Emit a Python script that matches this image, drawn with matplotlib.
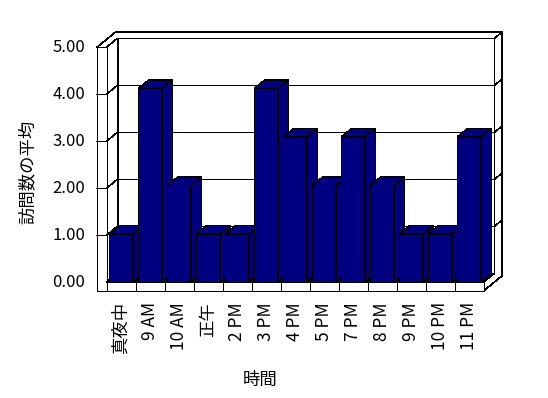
import matplotlib
matplotlib.use("Agg")
import matplotlib.pyplot as plt
from matplotlib.patches import Polygon

plt.rcParams['font.family'] = ['Noto Sans CJK JP', 'DejaVu Sans']

# data
categories = ["真夜中", "9 AM", "10 AM", "正午", "2 PM", "3 PM", "4 PM",
              "5 PM", "7 PM", "8 PM", "9 PM", "10 PM", "11 PM"]
avg_visits = [1, 4, 2, 1, 1, 4, 3, 2, 3, 2, 1, 1, 3]
y_ticks = [0, 1, 2, 3, 4, 5]
y_label = "訪問数の平均"
x_label = "時間"

BAR_COLOR = "#000080"
EDGE = "black"
LW = 0.4

# fake 3D (oblique projection): depth d shifts by (OX, OY) in data units
OX, OY = 11 / 29, 9 / 47
WALL_T = 0.33      # left wall thickness
FLOOR_T = 0.185    # floor thickness
BACK_IN = 1.0      # depth of back wall inner face
BACK_OUT = 1.7     # depth of back wall outer face
BAR_X0, BAR_W = 0.1, 0.82
BAR_DX, BAR_DY = 0.362, 0.179
BAR_SCALE = 1.032  # bars are drawn a touch taller than the grid, like the original


def P(x, v, d=0.0):
    return (x + d * OX, v + d * OY)


def face(ax, pts, fc="white", z=1):
    ax.add_patch(Polygon(pts, closed=True, fc=fc, ec=EDGE, lw=LW,
                         zorder=z, joinstyle="miter", antialiased=False))


def line(ax, pts, z=2):
    xs, ys = zip(*pts)
    ax.plot(xs, ys, color=EDGE, lw=LW, zorder=z, solid_capstyle="butt",
            antialiased=False)


def main():
    n = len(categories)
    ymax = y_ticks[-1]

    fig = plt.figure(figsize=(5.48, 3.98), dpi=100)
    ax = fig.add_axes([0, 0, 1, 1])
    ax.set_xlim(-106.5 / 29, (548 - 106.5) / 29)
    ax.set_ylim(-(398 - 282.3) / 47, 282.3 / 47)
    ax.axis("off")

    # walls and floor
    face(ax, [P(0, 0, BACK_IN), P(n, 0, BACK_IN), P(n, ymax, BACK_IN), P(0, ymax, BACK_IN)])
    face(ax, [P(-WALL_T, ymax, 0), P(0, ymax, 0), P(0, ymax, BACK_IN), P(n, ymax, BACK_IN),
              P(n, ymax, BACK_OUT), P(-WALL_T, ymax, BACK_OUT)])
    face(ax, [P(0, 0, 0), P(0, ymax, 0), P(0, ymax, BACK_IN), P(0, 0, BACK_IN)])
    face(ax, [P(-WALL_T, -FLOOR_T, 0), P(0, -FLOOR_T, 0), P(0, ymax, 0), P(-WALL_T, ymax, 0)])
    face(ax, [P(n, -FLOOR_T, 0), P(n, -FLOOR_T, BACK_OUT), P(n, ymax, BACK_OUT),
              P(n, ymax, BACK_IN), P(n, 0, BACK_IN), P(n, 0, 0)])
    face(ax, [P(0, 0, 0), P(n, 0, 0), P(n, 0, BACK_IN), P(0, 0, BACK_IN)])
    face(ax, [P(0, -FLOOR_T, 0), P(n, -FLOOR_T, 0), P(n, 0, 0), P(0, 0, 0)])

    # gridlines wrap around walls
    for v in y_ticks[1:-1]:
        line(ax, [P(-WALL_T, v, 0), P(0, v, 0), P(0, v, BACK_IN), P(n, v, BACK_IN)])
        line(ax, [P(n, v, BACK_IN), P(n, v, BACK_OUT)])

    # category ticks on floor
    for k in range(1, n):
        line(ax, [P(k, -FLOOR_T, 0), P(k, 0, 0)])
        line(ax, [P(k, 0, 0), P(k, 0, BACK_IN)])

    # bars, left to right so later ones cover the side faces
    for i, val in enumerate(avg_visits):
        h = val * BAR_SCALE
        x0 = i + BAR_X0
        x1 = x0 + BAR_W
        z = 10 + i
        face(ax, [(x0, 0), (x1, 0), (x1, h), (x0, h)], fc=BAR_COLOR, z=z)
        face(ax, [(x0, h), (x1, h), (x1 + BAR_DX, h + BAR_DY), (x0 + BAR_DX, h + BAR_DY)],
             fc=BAR_COLOR, z=z)
        face(ax, [(x1, 0), (x1 + BAR_DX, BAR_DY), (x1 + BAR_DX, h + BAR_DY), (x1, h)],
             fc=BAR_COLOR, z=z)

    # labels
    for v in y_ticks:
        ax.text(-WALL_T - 0.41, v, f"{v:.2f}", ha="right", va="center", fontsize=12)
    for i, cat in enumerate(categories):
        ax.text(i + 0.5, -0.42, cat, rotation=90, ha="center", va="top", fontsize=12.5)
    ax.text(-2.71, 2.35, y_label, rotation=90, ha="center", va="center", fontsize=12.5)
    ax.text(5.29, -2.08, x_label, ha="center", va="center", fontsize=12.5)

    fig.savefig("out.png", dpi=100)


if __name__ == "__main__":
    main()
